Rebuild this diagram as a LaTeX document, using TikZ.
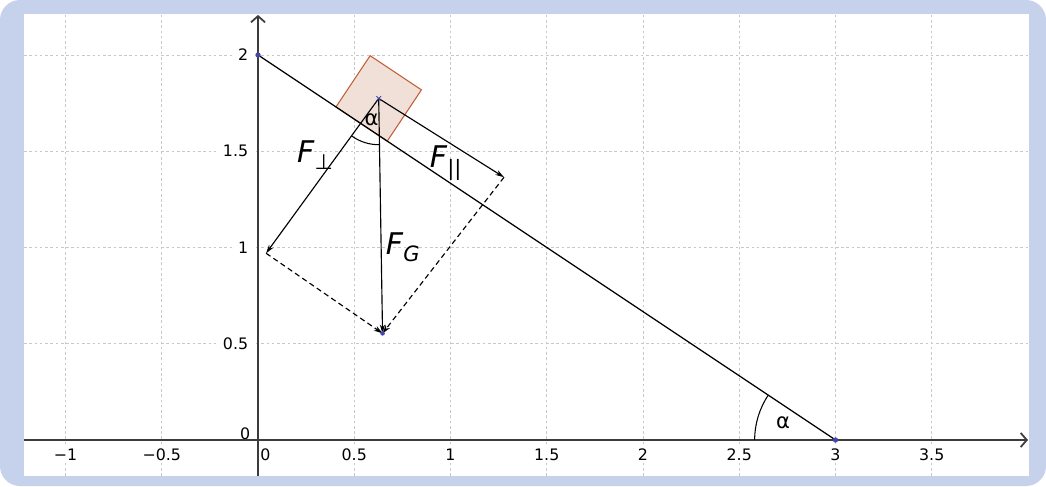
\documentclass[tikz,border=0pt]{standalone}
\usepackage{fontspec}
\setmainfont{DejaVu Sans}
\usetikzlibrary{arrows.meta,calc}
\definecolor{frameblue}{RGB}{198,210,236}
\definecolor{boxfill}{RGB}{241,224,216}
\definecolor{boxedge}{RGB}{192,92,52}
\definecolor{ptblue}{RGB}{70,70,170}
\definecolor{gridgray}{RGB}{200,200,200}
\definecolor{axisgray}{RGB}{60,60,60}
\tikzset{
 gridline/.style={gridgray, line width=0.5pt, dash pattern=on 1.5pt off 1.5pt},
 axisline/.style={axisgray, line width=1pt, -{Straight Barb[length=3.5pt,width=8pt]}},
 ticklabel/.style={font=\fontsize{9}{10}\selectfont, fill=white, inner sep=1pt},
 force/.style={black, line width=0.65pt, -{Stealth[length=5pt,width=3pt]}},
 helper/.style={black, line width=0.65pt, dash pattern=on 3pt off 2pt, -{Stealth[length=5pt,width=3pt]}},
 flabel/.style={font=\fontsize{17}{19}\selectfont, inner sep=0pt},
 anglabel/.style={font=\fontsize{12}{13}\selectfont, inner sep=0pt},
 ptdot/.style={circle, fill=ptblue, inner sep=0pt, minimum size=3pt},
}
\begin{document}
\begin{tikzpicture}[x=3.85cm,y=3.85cm]
\useasboundingbox (-1.3403,-0.2390) rectangle (4.0935,2.2857);
% frame
\fill[frameblue, rounded corners=0.4cm] (-1.3403,-0.2390) rectangle (4.0935,2.2857);
\fill[white] (-1.2156,-0.1870) rectangle (4.0052,2.2130);
% grid
\foreach \x in {-1,-0.5,0.5,1,1.5,2,2.5,3,3.5}
  \draw[gridline] (\x,-0.187) -- (\x,2.213);
\foreach \y in {0.5,1,1.5,2}
  \draw[gridline] (-1.2156,\y) -- (4.0052,\y);
% tick labels
\foreach \x/\t [count=\i] in {-1/−1,-0.5/−0.5,0.5/0.5,1/1,1.5/1.5,2/2,2.5/2.5,3/3,3.5/3.5}
  \node[ticklabel] (xl\i) at (\x,-0.078) {\t};
\node[ticklabel] (xl0) at (0.038,-0.078) {0};
\foreach \y/\t [count=\i] in {0.5/0.5,1/1,1.5/1.5,2/2}
  \node[ticklabel, anchor=east, inner xsep=3pt] (yl\i) at (-0.022,\y) {\t};
\node[ticklabel, anchor=east, fill=none] (yl0) at (-0.03,0.031) {0};
% axes
\coordinate (xs) at (-1.2156,0);
\coordinate (xe) at (4.0,0);
\coordinate (ys) at (0,-0.187);
\coordinate (ye) at (0,2.208);
\draw[axisline] (xs) -- (xe);
\draw[axisline] (ys) -- (ye);
% incline
\coordinate (A) at (0,2);
\coordinate (B) at (3,0);
% block
\coordinate (S1) at (0.405,1.730);
\coordinate (S2) at (0.6713,1.5525);
\coordinate (S3) at (0.8488,1.8188);
\coordinate (S4) at (0.5825,1.9963);
\draw[boxedge, fill=boxfill, line width=0.6pt] (S1) -- (S2) -- (S3) -- (S4) -- cycle;
\draw[black, line width=0.7pt] (A) -- (B);
% forces
\coordinate (C) at (0.627,1.774);
\coordinate (P) at (0.042,0.970);
\coordinate (Q) at (1.278,1.365);
\coordinate (G) at (0.647,0.554);
\draw[force] (C) -- (P);
\draw[force] (C) -- (Q);
\draw[force] (C) -- (G);
\draw[helper] (P) -- (G);
\draw[helper] (Q) -- (G);
% angle arcs
\draw[black, line width=0.6pt] ($(C)+(234:0.924cm)$) arc[start angle=234, end angle=271, radius=0.924cm];
\draw[black, line width=0.6pt] ($(B)+(146.31:1.617cm)$) arc[start angle=146.31, end angle=180, radius=1.617cm];
% points
\node[ptdot] (Ad) at (A) {};
\node[ptdot] (Bd) at (B) {};
\node[ptdot, minimum size=2.6pt] (Gd) at (G) {};
\draw[ptblue, line width=0.5pt] ($(C)+(-0.012,-0.012)$) -- ($(C)+(0.012,0.012)$);
\draw[ptblue, line width=0.5pt] ($(C)+(-0.012,0.012)$) -- ($(C)+(0.012,-0.012)$);
% labels
\node[anglabel] (a1) at (0.590,1.665) {α};
\node[anglabel] (a2) at (2.727,0.088) {α};
\node[flabel] (lperp) at (0.296,1.481) {\textit{F}\raisebox{-0.4ex}{\fontsize{12}{12}\selectfont ⊥}};
\node[flabel] (lpar) at (0.975,1.440) {\textit{F}\raisebox{-0.5ex}{\fontsize{12}{12}\selectfont ||}};
\node[flabel] (lg) at (0.752,1.000) {\textit{F}\raisebox{-0.45ex}{\fontsize{12}{12}\selectfont\itshape G}};
\end{tikzpicture}
\end{document}
